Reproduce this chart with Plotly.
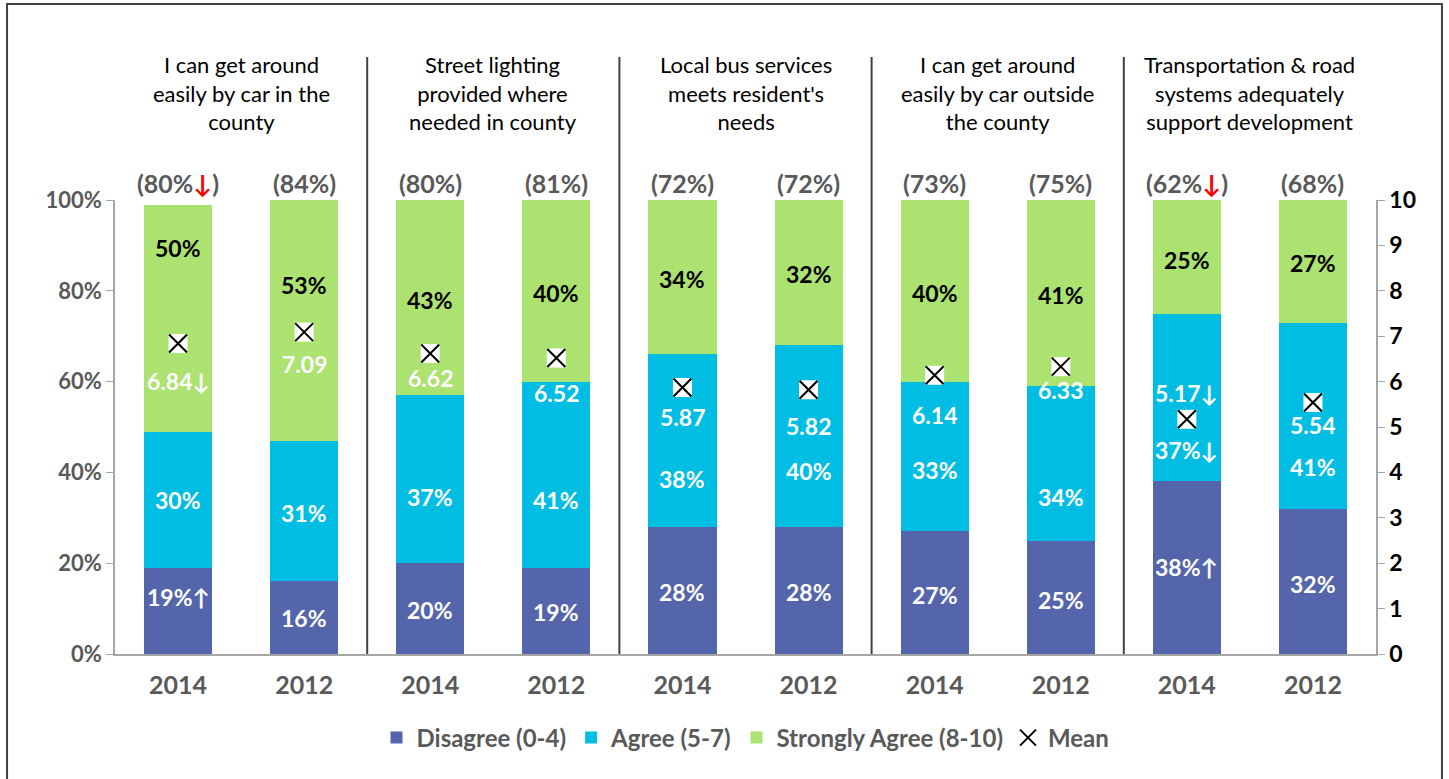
import plotly.graph_objects as go

# --- data ---
group_titles = [
    "I can get around<br>easily by car in the<br>county",
    "Street lighting<br>provided where<br>needed in county",
    "Local bus services<br>meets resident's<br>needs",
    "I can get around<br>easily by car outside<br>the county",
    "Transportation & road<br>systems adequately<br>support development",
]
years = ["2014", "2012"] * 5
disagree = [19, 16, 20, 19, 28, 28, 27, 25, 38, 32]
agree = [30, 31, 37, 41, 38, 40, 33, 34, 37, 41]
strongly = [50, 53, 43, 40, 34, 32, 40, 41, 25, 27]
mean = [6.84, 7.09, 6.62, 6.52, 5.87, 5.82, 6.14, 6.33, 5.17, 5.54]
top_box = [80, 84, 80, 81, 72, 72, 73, 75, 62, 68]
pct_ticks = [0, 20, 40, 60, 80, 100]
# significance flags
top_down = [True, False, False, False, False, False, False, False, True, False]
dis_up = [True, False, False, False, False, False, False, False, True, False]
agree_down = [False, False, False, False, False, False, False, False, True, False]
mean_down = [True, False, False, False, False, False, False, False, True, False]

# label placement (percent scale) as in the original
dis_lbl_y = [12.6, 7.9, 9.7, 9.3, 13.7, 13.7, 13, 11.9, 19.2, 15.5]
agree_lbl_y = [33.9, 31, 34.6, 33.9, 38.5, 40.2, 40.5, 34.6, 45, 41.2]
strong_lbl_y = [89.4, 81.3, 78, 79.5, 82.6, 83.7, 79.5, 79.1, 86.8, 86.1]
mean_lbl_y = [60.1, 63.9, 60.8, 57.5, 52.3, 50.3, 52.6, 58.1, 57.5, 50.4]

FONT = "Lato, 'Open Sans', sans-serif"
GRAY = "#595959"
AXIS = "#A6A6A6"
C_DIS, C_AGR, C_STR = "#5465AB", "#00BEE3", "#ACE26F"

x = list(range(len(years)))

fig = go.Figure()
for name, vals, col in [("Disagree (0-4)", disagree, C_DIS),
                        ("Agree (5-7)", agree, C_AGR),
                        ("Strongly Agree (8-10)", strongly, C_STR)]:
    fig.add_trace(go.Bar(x=x, y=vals, name=name, width=0.54,
                         marker=dict(color=col, line=dict(width=0)),
                         hoverinfo="skip"))

# mean markers: white box + X
fig.add_trace(go.Scatter(x=x, y=mean, yaxis="y2", mode="markers", showlegend=False,
                         marker=dict(symbol="square", size=19, color="white",
                                     line=dict(width=0)), hoverinfo="skip"))
fig.add_trace(go.Scatter(x=x, y=mean, yaxis="y2", mode="markers", name="Mean",
                         marker=dict(symbol="x-thin", size=18, color="black",
                                     line=dict(color="black", width=2))))

ann = []
lbl_font = dict(family=FONT, size=23, weight="bold")
for i in x:
    ann.append(dict(x=i, y=dis_lbl_y[i], text=f"{disagree[i]}%" + ("↑" if dis_up[i] else ""),
                    font=dict(lbl_font, color="white")))
    ann.append(dict(x=i, y=agree_lbl_y[i], text=f"{agree[i]}%" + ("↓" if agree_down[i] else ""),
                    font=dict(lbl_font, color="white")))
    ann.append(dict(x=i, y=strong_lbl_y[i], text=f"{strongly[i]}%",
                    font=dict(lbl_font, color="black")))
    ann.append(dict(x=i, y=mean_lbl_y[i], text=f"{mean[i]:.2f}" + ("↓" if mean_down[i] else ""),
                    font=dict(lbl_font, color="white")))
    arrow = "<span style='color:#FF0000'>↓</span>" if top_down[i] else ""
    ann.append(dict(x=i, y=100, yanchor="bottom", yshift=0,
                    text=f"({top_box[i]}%{arrow})",
                    font=dict(family=FONT, size=25, weight="bold", color=GRAY)))
for a in ann:
    a.update(xref="x", yref="y", showarrow=False)

for g, t in enumerate(group_titles):
    ann.append(dict(x=2 * g + 0.5, y=1.236, xref="x", yref="paper", text=t, showarrow=False,
                    yanchor="middle", font=dict(family=FONT, size=22, color="black")))

shapes = []
for b in [1.5, 3.5, 5.5, 7.5]:
    shapes.append(dict(type="line", xref="x", yref="paper", x0=b, x1=b, y0=0, y1=1.315,
                       line=dict(color="#404040", width=2)))
shapes.append(dict(type="rect", xref="paper", yref="paper", x0=-0.0856, x1=1.0523,
                   y0=-0.29, y1=1.4317, line=dict(color="#404040", width=2)))

fig.update_layout(
    width=1449, height=779,
    barmode="stack",
    bargap=0,
    plot_bgcolor="white", paper_bgcolor="white",
    margin=dict(l=115, r=73, t=200, b=125),
    font=dict(family=FONT, color=GRAY),
    xaxis=dict(tickmode="array", tickvals=x, ticktext=years, range=[-0.5, 9.5],
               showline=True, linecolor=AXIS, linewidth=1.5, ticks="", showgrid=False,
               tickfont=dict(family=FONT, size=25, weight="bold", color=GRAY),
               ticklabelstandoff=8, fixedrange=True),
    yaxis=dict(range=[0, 100], tickmode="array", tickvals=pct_ticks,
               ticktext=[f"{v}%" for v in pct_ticks],
               showline=True, linecolor=AXIS, linewidth=1.5, ticks="outside", ticklen=7,
               tickcolor=AXIS, showgrid=False, zeroline=False,
               tickfont=dict(family=FONT, size=22, weight="bold", color=GRAY)),
    yaxis2=dict(range=[0, 10], dtick=1, overlaying="y", side="right",
                showline=True, linecolor=AXIS, linewidth=1.5, ticks="outside", ticklen=7,
                tickcolor=AXIS, showgrid=False, zeroline=False,
                tickfont=dict(family=FONT, size=23, weight="bold", color="black")),
    legend=dict(orientation="h", x=0.5, xanchor="center", y=-0.185, yanchor="middle",
                font=dict(family=FONT, size=24, weight="bold", color=GRAY),
                itemwidth=30, traceorder="normal"),
    annotations=ann,
    shapes=shapes,
    showlegend=True,
)

fig.write_html("out.html", config={"displayModeBar": False},
               post_script="document.body.style.margin='0';")
